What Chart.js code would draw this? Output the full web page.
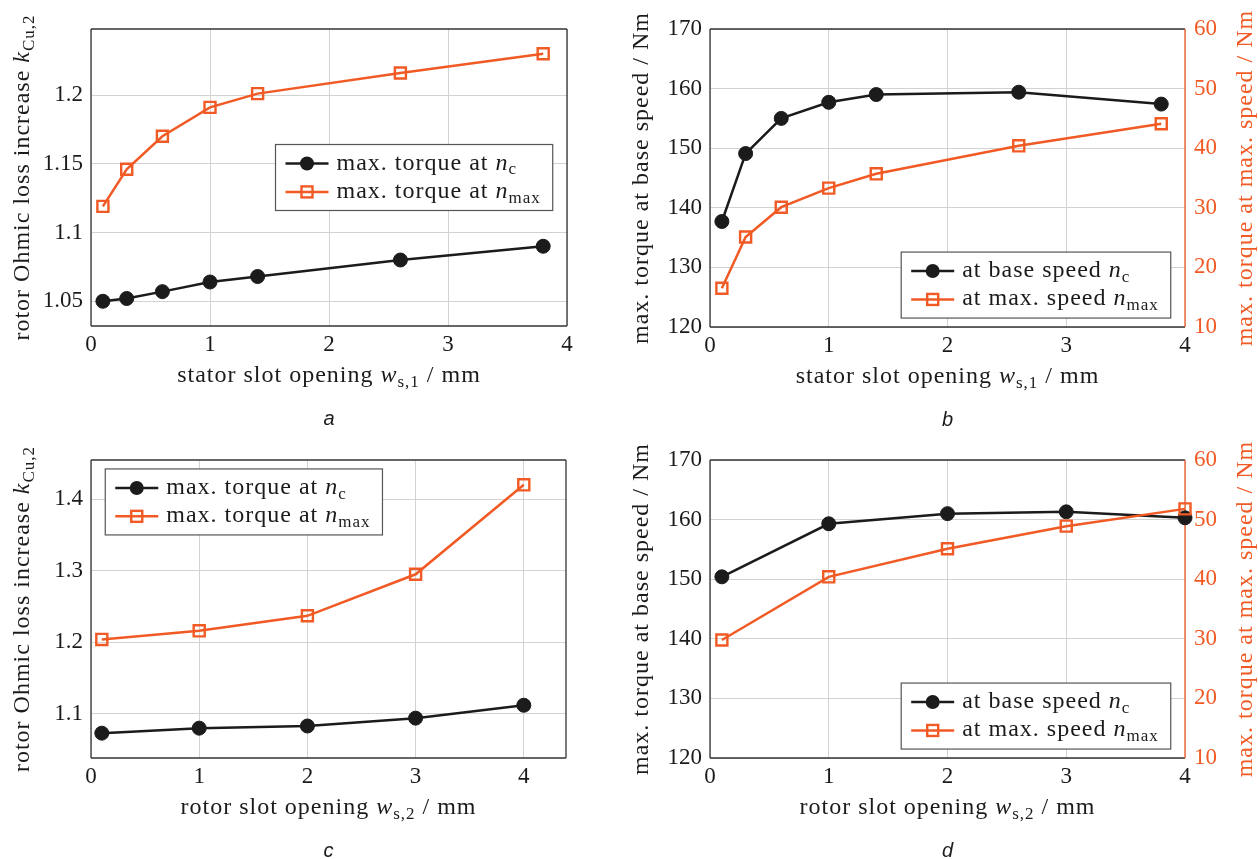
<!DOCTYPE html>
<html>
<head>
<meta charset="utf-8">
<script src="https://cdn.jsdelivr.net/npm/chart.js@4.4.1/dist/chart.umd.min.js"></script>
<style>
  html, body { margin: 0; padding: 0; background: #fff; }
  #page { position: relative; width: 1258px; height: 859px; overflow: hidden; }
  #page canvas { position: absolute; }
</style>
</head>
<body>
<div id="page">
  <canvas id="panelA" width="620" height="430" style="left:0;top:0"></canvas>
  <canvas id="panelB" width="638" height="430" style="left:620px;top:0"></canvas>
  <canvas id="panelC" width="620" height="429" style="left:0;top:430px"></canvas>
  <canvas id="panelD" width="638" height="429" style="left:620px;top:430px"></canvas>
</div>
<script>
// slot openings in mm
const statorSlot = [0.1, 0.3, 0.6, 1.0, 1.4, 2.6, 3.8];
const rotorSlot = [0.1, 1, 2, 3, 4];

// rotor ohmic loss increase k_Cu,2 vs stator slot opening
const kCuStatorBase = [1.050, 1.052, 1.057, 1.064, 1.068, 1.080, 1.090];
const kCuStatorMax = [1.119, 1.146, 1.170, 1.191, 1.201, 1.216, 1.230];

// max. torque (Nm) vs stator slot opening
const torqueStatorBase = [137.7, 149.1, 155.0, 157.7, 159.0, 159.4, 157.4];
const torqueStatorMax = [16.5, 25.1, 30.1, 33.3, 35.7, 40.4, 44.1];

// rotor ohmic loss increase k_Cu,2 vs rotor slot opening
const kCuRotorBase = [1.073, 1.080, 1.083, 1.094, 1.112];
const kCuRotorMax = [1.204, 1.216, 1.237, 1.295, 1.420];

// max. torque (Nm) vs rotor slot opening
const torqueRotorBase = [150.4, 159.3, 161.0, 161.3, 160.3];
const torqueRotorMax = [29.8, 40.4, 45.1, 48.9, 51.8];

// tick labels
const slotTicks = [0, 1, 2, 3, 4];
const kCuTicksStator = [1.05, 1.1, 1.15, 1.2];
const kCuTicksRotor = [1.1, 1.2, 1.3, 1.4];
const torqueBaseTicks = [120, 130, 140, 150, 160, 170];
const torqueMaxTicks = [10, 20, 30, 40, 50, 60];

const SERIF = '"Liberation Serif", "Times New Roman", serif';
const SANS = '"Liberation Sans", Arial, sans-serif';
const BLACK = '#1b1b1b';
const ORANGE = '#f15a24';
const GRID = '#d2d2d2';
const FRAME = '#333333';
const TXT = 24;
const SPACING = '1px';

Chart.defaults.font.family = SERIF;
Chart.defaults.font.size = 23;
Chart.defaults.color = BLACK;

function fontFor(kind, size) {
    if (kind === 'i') return `italic ${size}px ${SERIF}`;
    if (kind === 's') return `${Math.round(size * 0.7)}px ${SERIF}`;
    return `${size}px ${SERIF}`;
}

function richWidth(ctx, parts, size) {
    let w = 0;
    for (const [t, k] of parts) {
        ctx.font = fontFor(k, size);
        w += ctx.measureText(t).width;
    }
    return w;
}

// text with italic symbols and subscripts, left aligned on the baseline
function drawRich(ctx, parts, x, y, size, color) {
    ctx.fillStyle = color;
    ctx.textAlign = 'left';
    ctx.textBaseline = 'alphabetic';
    let cx = x;
    for (const [t, k] of parts) {
        ctx.font = fontFor(k, size);
        ctx.fillText(t, cx, k === 's' ? y + size * 0.2 : y);
        cx += ctx.measureText(t).width;
    }
}

function drawMarker(ctx, style, x, y) {
    ctx.save();
    if (style === 'circle') {
        ctx.fillStyle = BLACK;
        ctx.beginPath();
        ctx.arc(x, y, 7, 0, Math.PI * 2);
        ctx.fill();
    } else {
        ctx.strokeStyle = ORANGE;
        ctx.lineWidth = 2.4;
        ctx.strokeRect(x - 5.5, y - 5.5, 11, 11);
    }
    ctx.restore();
}

const panelDecor = {
    id: 'panelDecor',
    beforeDatasetsDraw(chart, args, opts) {
        const { ctx, chartArea: a } = chart;
        ctx.save();
        ctx.lineWidth = 1.3;
        const side = (color, x1, y1, x2, y2) => {
            ctx.strokeStyle = color;
            ctx.beginPath();
            ctx.moveTo(x1, y1);
            ctx.lineTo(x2, y2);
            ctx.stroke();
        };
        side(FRAME, a.left, a.top, a.right, a.top);
        side(FRAME, a.left, a.bottom, a.right, a.bottom);
        side(FRAME, a.left, a.top, a.left, a.bottom);
        side(opts.rightColor || FRAME, a.right, a.top, a.right, a.bottom);
        ctx.restore();
    },
    afterDatasetsDraw(chart, args, opts) {
        const { ctx, chartArea: a } = chart;
        const items = opts.legend;
        if (!items) return;
        ctx.save();
        if ('letterSpacing' in ctx) ctx.letterSpacing = SPACING;
        const textW = Math.max(...items.map(it => richWidth(ctx, it.parts, TXT)));
        const w = 61 + textW + 12, h = 66;
        const px = a.left + opts.legendAt[0] * (a.right - a.left);
        const py = a.bottom - opts.legendAt[1] * (a.bottom - a.top);
        const anchor = opts.legendAnchor;
        let x = anchor.includes('east') ? px - w : px;
        let y = anchor.includes('south') ? py - h : anchor.includes('north') ? py : py - h / 2;
        ctx.fillStyle = '#fff';
        ctx.fillRect(x, y, w, h);
        ctx.strokeStyle = '#555';
        ctx.lineWidth = 1.2;
        ctx.strokeRect(x, y, w, h);
        items.forEach((it, i) => {
            const cy = y + 19 + i * 28.4;
            ctx.strokeStyle = it.color;
            ctx.lineWidth = 2.5;
            ctx.beginPath();
            ctx.moveTo(x + 10, cy);
            ctx.lineTo(x + 53, cy);
            ctx.stroke();
            drawMarker(ctx, it.marker, x + 31.5, cy);
            drawRich(ctx, it.parts, x + 61, cy + 6, TXT, BLACK);
        });
        ctx.restore();
    },
    afterDraw(chart, args, opts) {
        const { ctx, chartArea: a } = chart;
        ctx.save();
        if ('letterSpacing' in ctx) ctx.letterSpacing = SPACING;
        const cx = (a.left + a.right) / 2, cy = (a.top + a.bottom) / 2;
        const xw = richWidth(ctx, opts.xTitle, TXT);
        drawRich(ctx, opts.xTitle, cx - xw / 2, a.bottom + 56, TXT, BLACK);

        const yw = richWidth(ctx, opts.yTitle, TXT);
        ctx.save();
        ctx.translate(a.left - 62, cy);
        ctx.rotate(-Math.PI / 2);
        drawRich(ctx, opts.yTitle, -yw / 2, 0, TXT, BLACK);
        ctx.restore();

        if (opts.y2Title) {
            const w2 = richWidth(ctx, opts.y2Title, TXT);
            ctx.save();
            ctx.translate(a.right + 67, cy);
            ctx.rotate(-Math.PI / 2);
            drawRich(ctx, opts.y2Title, -w2 / 2, 0, TXT, ORANGE);
            ctx.restore();
        }

        if ('letterSpacing' in ctx) ctx.letterSpacing = '0px';
        ctx.font = `italic 20px ${SANS}`;
        ctx.fillStyle = BLACK;
        ctx.textAlign = 'center';
        ctx.textBaseline = 'alphabetic';
        ctx.fillText(opts.caption, cx, a.bottom + 99);
        ctx.restore();
    }
};

function fixedTicks(list) {
    return scale => { scale.ticks = list.map(v => ({ value: v })); };
}

function series(label, xs, ys, color, marker, axis) {
    return {
        label,
        data: xs.map((x, i) => ({ x, y: ys[i] })),
        yAxisID: axis,
        borderColor: color,
        borderWidth: 2.5,
        pointStyle: marker,
        pointRadius: marker === 'circle' ? 7 : 7.8,
        pointBorderWidth: marker === 'circle' ? 1 : 2.4,
        pointBorderColor: color,
        pointBackgroundColor: marker === 'circle' ? color : 'rgba(0,0,0,0)',
        order: marker === 'circle' ? 1 : 0,
        tension: 0,
        clip: false
    };
}

function makePanel(id, cfg) {
    const scales = {
        x: {
            type: 'linear',
            min: 0,
            max: cfg.xMax,
            afterBuildTicks: fixedTicks(slotTicks),
            afterFit: s => { s.height = cfg.bottom; },
            grid: { color: GRID, drawTicks: false },
            border: { display: false },
            ticks: { padding: 5, maxRotation: 0, color: BLACK, callback: v => String(v) }
        },
        y: {
            type: 'linear',
            position: 'left',
            min: cfg.yRange[0],
            max: cfg.yRange[1],
            afterBuildTicks: fixedTicks(cfg.yTicks),
            afterFit: s => { s.width = cfg.left; },
            grid: { color: GRID, drawTicks: false },
            border: { display: false },
            ticks: { padding: 8, color: BLACK, callback: v => String(v) }
        }
    };
    if (cfg.y2Ticks) {
        scales.y2 = {
            type: 'linear',
            position: 'right',
            min: cfg.y2Ticks[0],
            max: cfg.y2Ticks[cfg.y2Ticks.length - 1],
            afterBuildTicks: fixedTicks(cfg.y2Ticks),
            afterFit: s => { s.width = cfg.right; },
            grid: { display: false, drawTicks: false },
            border: { display: false },
            ticks: { padding: 9, color: ORANGE, callback: v => String(v) }
        };
    }
    return new Chart(document.getElementById(id), {
        type: 'line',
        data: { datasets: cfg.datasets },
        plugins: [panelDecor],
        options: {
            responsive: false,
            animation: false,
            devicePixelRatio: 1,
            layout: { padding: { top: cfg.top, right: cfg.y2Ticks ? 0 : cfg.right, left: 0, bottom: 0 } },
            scales,
            plugins: {
                legend: { display: false },
                tooltip: { enabled: false },
                panelDecor: {
                    xTitle: cfg.xTitle,
                    yTitle: cfg.yTitle,
                    y2Title: cfg.y2Title,
                    rightColor: cfg.y2Ticks ? ORANGE : FRAME,
                    caption: cfg.caption,
                    legend: cfg.legend,
                    legendAt: cfg.legendAt,
                    legendAnchor: cfg.legendAnchor
                }
            }
        }
    });
}

// pgfplots-style 10% enlargement of the data range
function enlarged(a, b) {
    const lo = Math.min(...a, ...b), hi = Math.max(...a, ...b);
    const d = (hi - lo) * 0.1;
    return [lo - d, hi + d];
}

const kCuTitle = [['rotor Ohmic loss increase ', ''], ['k', 'i'], ['Cu,2', 's']];
const torqueBaseTitle = [['max. torque at base speed / Nm', '']];
const torqueMaxTitle = [['max. torque at max. speed / Nm', '']];
const statorTitle = [['stator slot opening ', ''], ['w', 'i'], ['s,1', 's'], [' / mm', '']];
const rotorTitle = [['rotor slot opening ', ''], ['w', 'i'], ['s,2', 's'], [' / mm', '']];

const kCuLegend = [
    { parts: [['max. torque at ', ''], ['n', 'i'], ['c', 's']], color: BLACK, marker: 'circle' },
    { parts: [['max. torque at ', ''], ['n', 'i'], ['max', 's']], color: ORANGE, marker: 'rect' }
];
const torqueLegend = [
    { parts: [['at base speed ', ''], ['n', 'i'], ['c', 's']], color: BLACK, marker: 'circle' },
    { parts: [['at max. speed ', ''], ['n', 'i'], ['max', 's']], color: ORANGE, marker: 'rect' }
];

makePanel('panelA', {
    top: 29, left: 91, right: 53, bottom: 104,
    xMax: 4,
    yRange: enlarged(kCuStatorBase, kCuStatorMax),
    yTicks: kCuTicksStator,
    xTitle: statorTitle, yTitle: kCuTitle, caption: 'a',
    legend: kCuLegend, legendAt: [0.97, 0.5], legendAnchor: 'east',
    datasets: [
        series('max. torque at n_c', statorSlot, kCuStatorBase, BLACK, 'circle', 'y'),
        series('max. torque at n_max', statorSlot, kCuStatorMax, ORANGE, 'rect', 'y')
    ]
});

makePanel('panelB', {
    top: 29, left: 90, right: 73, bottom: 103,
    xMax: 4,
    yRange: [torqueBaseTicks[0], torqueBaseTicks[torqueBaseTicks.length - 1]],
    yTicks: torqueBaseTicks,
    y2Ticks: torqueMaxTicks,
    xTitle: statorTitle, yTitle: torqueBaseTitle, y2Title: torqueMaxTitle, caption: 'b',
    legend: torqueLegend, legendAt: [0.97, 0.03], legendAnchor: 'south east',
    datasets: [
        series('at base speed n_c', statorSlot, torqueStatorBase, BLACK, 'circle', 'y'),
        series('at max. speed n_max', statorSlot, torqueStatorMax, ORANGE, 'rect', 'y2')
    ]
});

makePanel('panelC', {
    top: 30, left: 91, right: 54, bottom: 101,
    xMax: 4 + (4 - 0.1) * 0.1,
    yRange: enlarged(kCuRotorBase, kCuRotorMax),
    yTicks: kCuTicksRotor,
    xTitle: rotorTitle, yTitle: kCuTitle, caption: 'c',
    legend: kCuLegend, legendAt: [0.03, 0.97], legendAnchor: 'north west',
    datasets: [
        series('max. torque at n_c', rotorSlot, kCuRotorBase, BLACK, 'circle', 'y'),
        series('max. torque at n_max', rotorSlot, kCuRotorMax, ORANGE, 'rect', 'y')
    ]
});

makePanel('panelD', {
    top: 30, left: 90, right: 73, bottom: 101,
    xMax: 4,
    yRange: [torqueBaseTicks[0], torqueBaseTicks[torqueBaseTicks.length - 1]],
    yTicks: torqueBaseTicks,
    y2Ticks: torqueMaxTicks,
    xTitle: rotorTitle, yTitle: torqueBaseTitle, y2Title: torqueMaxTitle, caption: 'd',
    legend: torqueLegend, legendAt: [0.97, 0.03], legendAnchor: 'south east',
    datasets: [
        series('at base speed n_c', rotorSlot, torqueRotorBase, BLACK, 'circle', 'y'),
        series('at max. speed n_max', rotorSlot, torqueRotorMax, ORANGE, 'rect', 'y2')
    ]
});
</script>
</body>
</html>
